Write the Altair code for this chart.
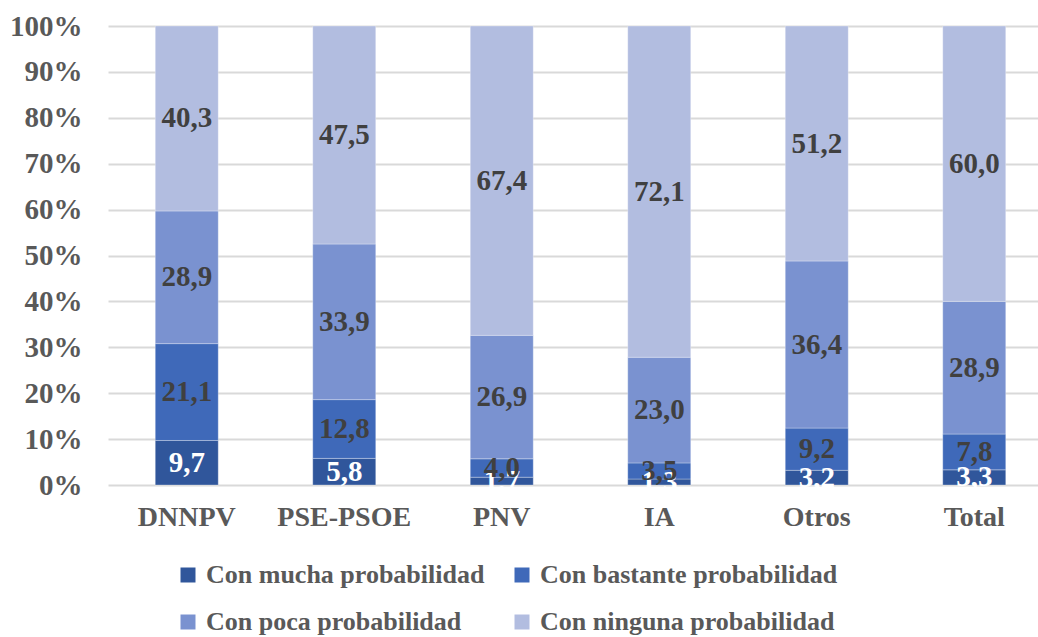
import altair as alt
import pandas as pd

# Categories and response series (percent of each group)
parties = ["DNNPV", "PSE-PSOE", "PNV", "IA", "Otros", "Total"]
series = [
    "Con mucha probabilidad",
    "Con bastante probabilidad",
    "Con poca probabilidad",
    "Con ninguna probabilidad",
]
mucha = [9.7, 5.8, 1.7, 1.3, 3.2, 3.3]
bastante = [21.1, 12.8, 4.0, 3.5, 9.2, 7.8]
poca = [28.9, 33.9, 26.9, 23.0, 36.4, 28.9]
ninguna = [40.3, 47.5, 67.4, 72.1, 51.2, 60.0]
colors = ["#30569B", "#3F69B9", "#7A92D0", "#B2BDE0"]
label_colors = ["#FFFFFF", "#404040", "#404040", "#404040"]

rows = []
for s_idx, (name, vals) in enumerate(zip(series, [mucha, bastante, poca, ninguna])):
    for party, v in zip(parties, vals):
        rows.append({
            "party": party,
            "serie": name,
            "idx": s_idx,
            "value": v,
            "label": f"{v:.1f}".replace(".", ","),
            "tcolor": label_colors[s_idx],
        })
df = pd.DataFrame(rows)

FONT = "Liberation Serif"

base = alt.Chart(df).transform_stack(
    stack="value",
    as_=["y0", "y1"],
    groupby=["party"],
    sort=[alt.SortField("idx", order="ascending")],
    offset="normalize",
).transform_calculate(mid="(datum.y0 + datum.y1) / 2")

x_enc = alt.X(
    "party:N",
    sort=parties,
    title=None,
    scale=alt.Scale(range=[0, 945], paddingInner=0.6, paddingOuter=0.3),
    axis=alt.Axis(
        labelAngle=0,
        labelFont=FONT,
        labelFontWeight="bold",
        labelFontSize=28,
        labelColor="#595959",
        labelPadding=18,
        domain=False,
        ticks=False,
        grid=False,
    ),
)

bars = base.mark_bar(stroke="white", strokeWidth=0.6, strokeOpacity=0.5).encode(
    x=x_enc,
    y=alt.Y(
        "y0:Q",
        title=None,
        scale=alt.Scale(domain=[0, 1], nice=False),
        axis=alt.Axis(
            values=[i / 10 for i in range(11)],
            format=".0%",
            labelFont=FONT,
            labelFontWeight="bold",
            labelFontSize=29,
            labelColor="#595959",
            labelPadding=26,
            domain=False,
            ticks=False,
            gridColor="#D9D9D9",
            gridWidth=2,
        ),
    ),
    y2="y1:Q",
    color=alt.Color(
        "serie:N",
        sort=series,
        scale=alt.Scale(domain=series, range=colors),
        legend=alt.Legend(
            title=None,
            orient="none",
            legendX=67,
            legendY=536,
            direction="horizontal",
            columns=2,
            columnPadding=24,
            rowPadding=21,
            symbolType="square",
            symbolSize=225,
            symbolStrokeWidth=0,
            labelFont=FONT,
            labelFontWeight="bold",
            labelFontSize=26,
            labelColor="#595959",
            labelOffset=5,
            labelLimit=400,
        ),
    ),
    order=alt.Order("idx:Q"),
)

labels = base.mark_text(
    font=FONT, fontWeight="bold", fontSize=29, baseline="middle", align="center"
).encode(
    x=alt.X("party:N", sort=parties),
    y=alt.Y("mid:Q"),
    text="label:N",
    color=alt.Color("tcolor:N", scale=None),
    order=alt.Order("idx:Q"),
)

chart = (
    alt.layer(bars, labels)
    .properties(
        width=930,
        height=459,
        padding={"left": 108, "top": 26, "right": 0, "bottom": 152},
        autosize=alt.AutoSizeParams(type="none"),
        background="white",
    )
    .configure_view(stroke=None)
)

chart.save("out.html", embed_options={"renderer": "svg", "actions": False})
